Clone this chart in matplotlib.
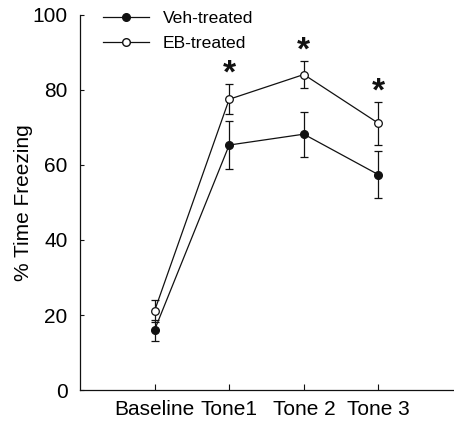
import matplotlib
matplotlib.use("Agg")
import matplotlib.pyplot as plt
from matplotlib.lines import Line2D

plt.rcParams["font.family"] = ["Liberation Sans", "DejaVu Sans"]

# data
phases = ["Baseline", "Tone1", "Tone 2", "Tone 3"]
veh_mean = [16.0, 65.3, 68.2, 57.4]
veh_err = [2.8, 6.3, 6.0, 6.2]
eb_mean = [21.1, 77.5, 84.1, 71.1]
eb_err = [3.0, 4.0, 3.6, 5.8]
significant = [False, True, True, True]

x = list(range(1, len(phases) + 1))
ink = "#111111"

fig = plt.figure(figsize=(4.54, 4.24), dpi=100)
ax = fig.add_axes([0.176, 0.08, 0.822, 0.885])

ax.errorbar(x, veh_mean, yerr=veh_err, color=ink, lw=0.9, marker="o",
            ms=5.5, mfc=ink, mec=ink, capsize=3.2, elinewidth=0.9,
            capthick=0.9, zorder=3)
ax.errorbar(x, eb_mean, yerr=eb_err, color=ink, lw=0.9, marker="o",
            ms=5.5, mfc="white", mec=ink, mew=0.9, capsize=3.2,
            elinewidth=0.9, capthick=0.9, zorder=4)

# significance stars above EB error bars
for xi, m, e, sig in zip(x, eb_mean, eb_err, significant):
    if sig:
        ax.text(xi, m + e + 2.6, "*", ha="center", va="center",
                fontsize=24, fontweight="bold", color=ink)

ax.set_xlim(0, 5)
ax.set_ylim(0, 100)
ax.set_xticks(x)
ax.set_xticklabels(phases, fontsize=15)
ax.set_yticks(range(0, 101, 20))
ax.tick_params(axis="y", labelsize=15, direction="in", length=3, pad=9, color=ink)
ax.tick_params(axis="x", labelsize=15, direction="in", length=4, pad=7, color=ink)
for s in ("top", "right"):
    ax.spines[s].set_visible(False)
for s in ("left", "bottom"):
    ax.spines[s].set_color(ink)
    ax.spines[s].set_linewidth(0.9)

ax.set_ylabel("% Time Freezing", fontsize=15)
ax.yaxis.set_label_coords(-0.126, 0.5)

handles = [
    Line2D([], [], color=ink, lw=0.9, marker="o", ms=5.5, mfc=ink, mec=ink),
    Line2D([], [], color=ink, lw=0.9, marker="o", ms=5.5, mfc="white", mec=ink),
]
ax.legend(handles, ["Veh-treated", "EB-treated"], loc="upper left",
          bbox_to_anchor=(0.062, 1.01), frameon=False, fontsize=12.6,
          handlelength=2.6, handletextpad=0.8, labelspacing=0.55,
          borderpad=0, borderaxespad=0)

fig.savefig("out.png", dpi=100)
